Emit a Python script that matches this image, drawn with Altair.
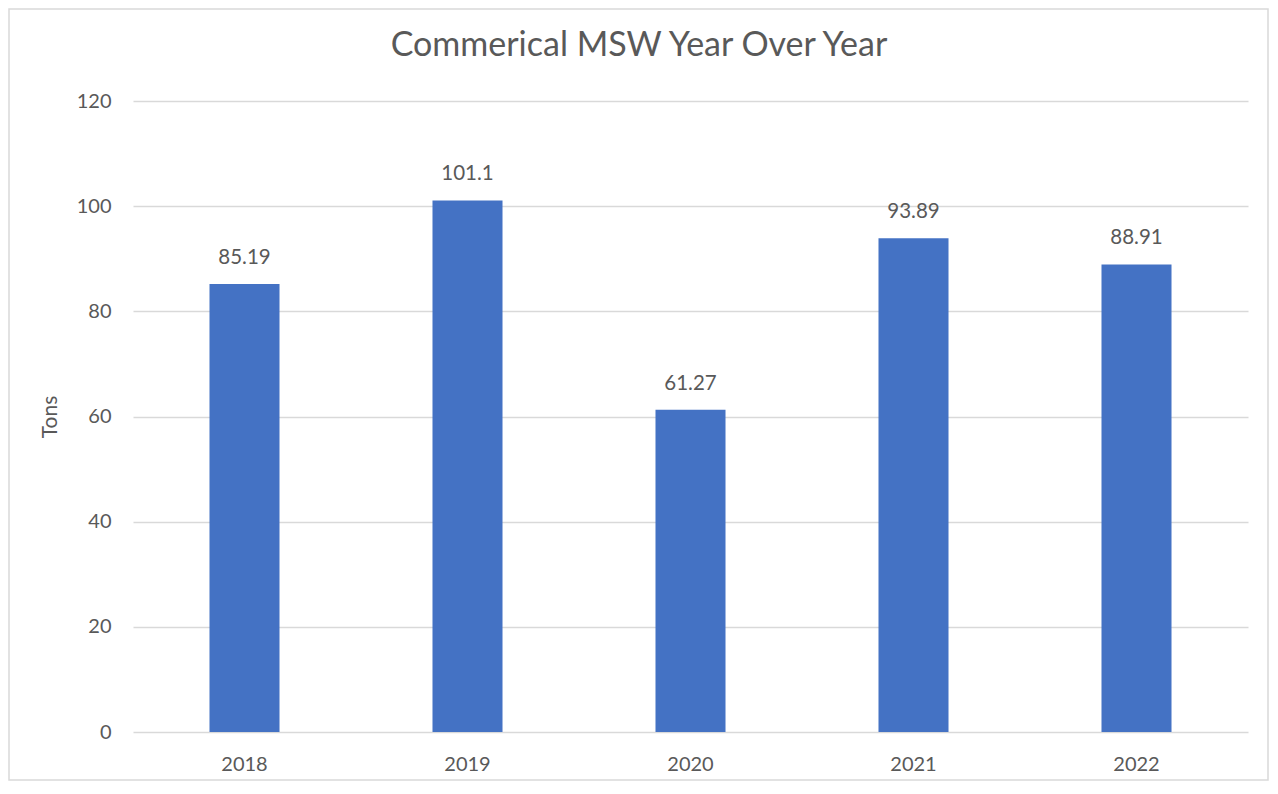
import altair as alt
import pandas as pd

years = ["2018", "2019", "2020", "2021", "2022"]
tons = [85.19, 101.1, 61.27, 93.89, 88.91]
labels = ["85.19", "101.1", "61.27", "93.89", "88.91"]
title_text = "Commerical MSW Year Over Year"

df = pd.DataFrame({"year": years, "tons": tons, "label": labels})

FONT = "Lato"
GRAY = "#595959"
W, H = 1115, 631

base = alt.Chart(df)

x = alt.X("year:N", sort=years, title=None,
          scale=alt.Scale(paddingInner=0.686, paddingOuter=0.343),
          axis=alt.Axis(labelAngle=0, labelFont=FONT, labelFontSize=20, labelColor=GRAY,
                        labelPadding=22, ticks=False, domain=False, grid=False))
y = alt.Y("tons:Q", title="Tons",
          scale=alt.Scale(domain=[0, 120], nice=False),
          axis=alt.Axis(values=[0, 20, 40, 60, 80, 100, 120], labelFont=FONT, labelFontSize=20,
                        labelColor=GRAY, labelPadding=22, ticks=False, domain=False,
                        gridColor="#d9d9d9", gridWidth=1.3,
                        titleFont=FONT, titleFontSize=21, titleFontWeight="normal",
                        titleColor=GRAY, titlePadding=16))

bars = base.mark_bar(color="#4472C4").encode(x=x, y=y)
text = base.mark_text(font=FONT, fontSize=20.5, color=GRAY, baseline="middle", dy=-26).encode(
    x=alt.X("year:N", sort=years), y="tons:Q", text="label:N")

one = pd.DataFrame({"t": [title_text]})
frame = alt.Chart(one).mark_rect(fill=None, stroke="#d9d9d9", strokeWidth=1.5).encode(
    x=alt.value(-124), x2=alt.value(W + 20), y=alt.value(-92), y2=alt.value(H + 48))
title = alt.Chart(one).mark_text(font=FONT, fontSize=34, color=GRAY, baseline="middle",
                                 align="center").encode(
    x=alt.value(506), y=alt.value(-55), text="t:N")

chart = alt.layer(frame, bars, text, title).properties(
    width=W, height=H,
    autosize=alt.AutoSizeParams(type="none"),
    padding={"left": 125, "top": 93, "right": 22, "bottom": 50},
).configure_view(stroke=None)

chart.save("out.html", embed_options={"renderer": "svg", "actions": False})
